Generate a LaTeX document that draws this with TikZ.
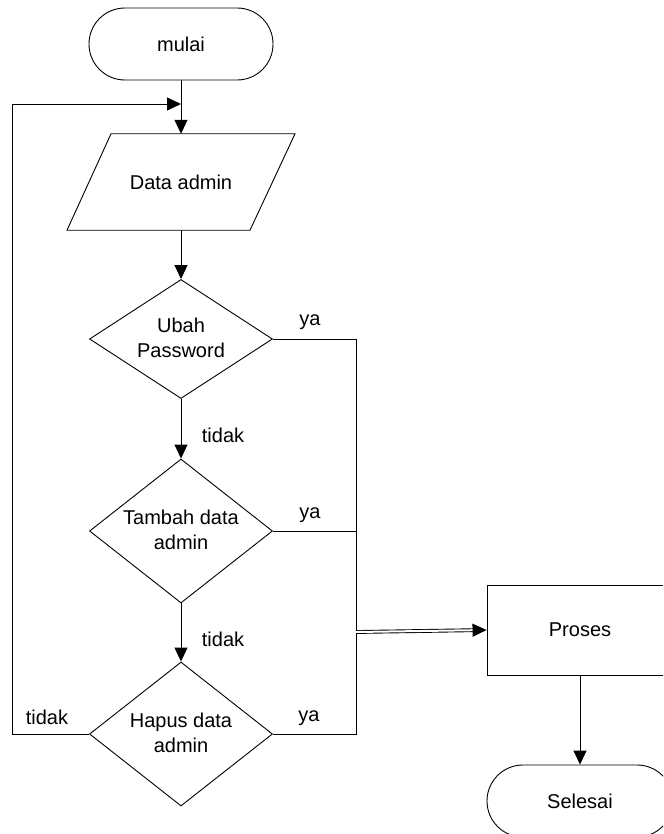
\documentclass[tikz,border=0pt]{standalone}
\usepackage{fontspec}
\setmainfont{Liberation Sans}
\usetikzlibrary{shapes.geometric,arrows.meta}
\begin{document}
\begin{tikzpicture}[x=1pt,y=-1pt,
  every node/.style={font=\fontsize{20}{25}\selectfont},
  line/.style={line width=0.9pt,draw=black},
  arr/.style={line, -{Triangle[length=14pt,width=13pt]}},
  terminal/.style={line, rectangle, rounded corners=35.9pt, minimum width=184pt, minimum height=72pt, inner sep=0pt},
  procbox/.style={line, rectangle, minimum width=186pt, minimum height=90pt, inner sep=0pt},
  decision/.style={line, diamond, inner sep=0pt, minimum width=183pt},
  lbl/.style={inner sep=0pt}
]
\clip (0,0) rectangle (663,834);
\fill[white] (0,0) rectangle (663,834);

% start
\node[terminal] (start) at (181,44) {mulai};

% input: parallelogram around the text node
\node[minimum width=140pt, minimum height=96pt, inner sep=0pt] (io) at (181,182) {Data admin};
\draw[line] ([xshift=-70pt]io.north) -- ([xshift=114pt]io.north)
  -- ([xshift=69pt]io.south) -- ([xshift=-114pt]io.south) -- cycle;

% decisions
\node[decision, minimum height=119pt] (d1) at (181,339) {};
\node[align=center, lbl] (t1) at (181,338) {Ubah\\Password};
\node[decision, minimum height=144pt] (d2) at (181,531) {};
\node[align=center, lbl] (t2) at (181,530) {Tambah data\\admin};
\node[decision, minimum height=144pt] (d3) at (181,734) {};
\node[align=center, lbl] (t3) at (181,733) {Hapus data\\admin};

% process and end
\node[procbox] (proc) at (580,630) {Proses};
\node[terminal, minimum width=186pt] (stop) at (580,801) {Selesai};

% junctions
\coordinate (loop) at (181,104);
\coordinate (j) at (356,632);

% main flow
\draw[arr] (start.south) -- (io.north);
\draw[arr] (io.south) -- (d1.north);
\draw[arr] (d1.south) -- (d2.north);
\draw[arr] (d2.south) -- (d3.north);
\draw[arr] (proc.south) -- (stop.north);

% return loop
\draw[arr] (d3.west) -- (12,734) -- (12,104) -- (loop);

% yes branches
\draw[line] (d1.east) -- (356,339) -- (356,734) -- (d3.east);
\draw[line] (d2.east) -- (356,531);
\draw[line, double, double distance=2pt, -{Triangle[length=14pt,width=13pt]}] (j) -- (proc.west);

% branch labels
\node[lbl] (ya1) at (310,322) {ya};
\node[lbl] (ya2) at (310,515) {ya};
\node[lbl] (ya3) at (309,718) {ya};
\node[lbl] (no1) at (223,435) {tidak};
\node[lbl] (no2) at (223,639) {tidak};
\node[lbl] (no3) at (47,717) {tidak};
\end{tikzpicture}
\end{document}
